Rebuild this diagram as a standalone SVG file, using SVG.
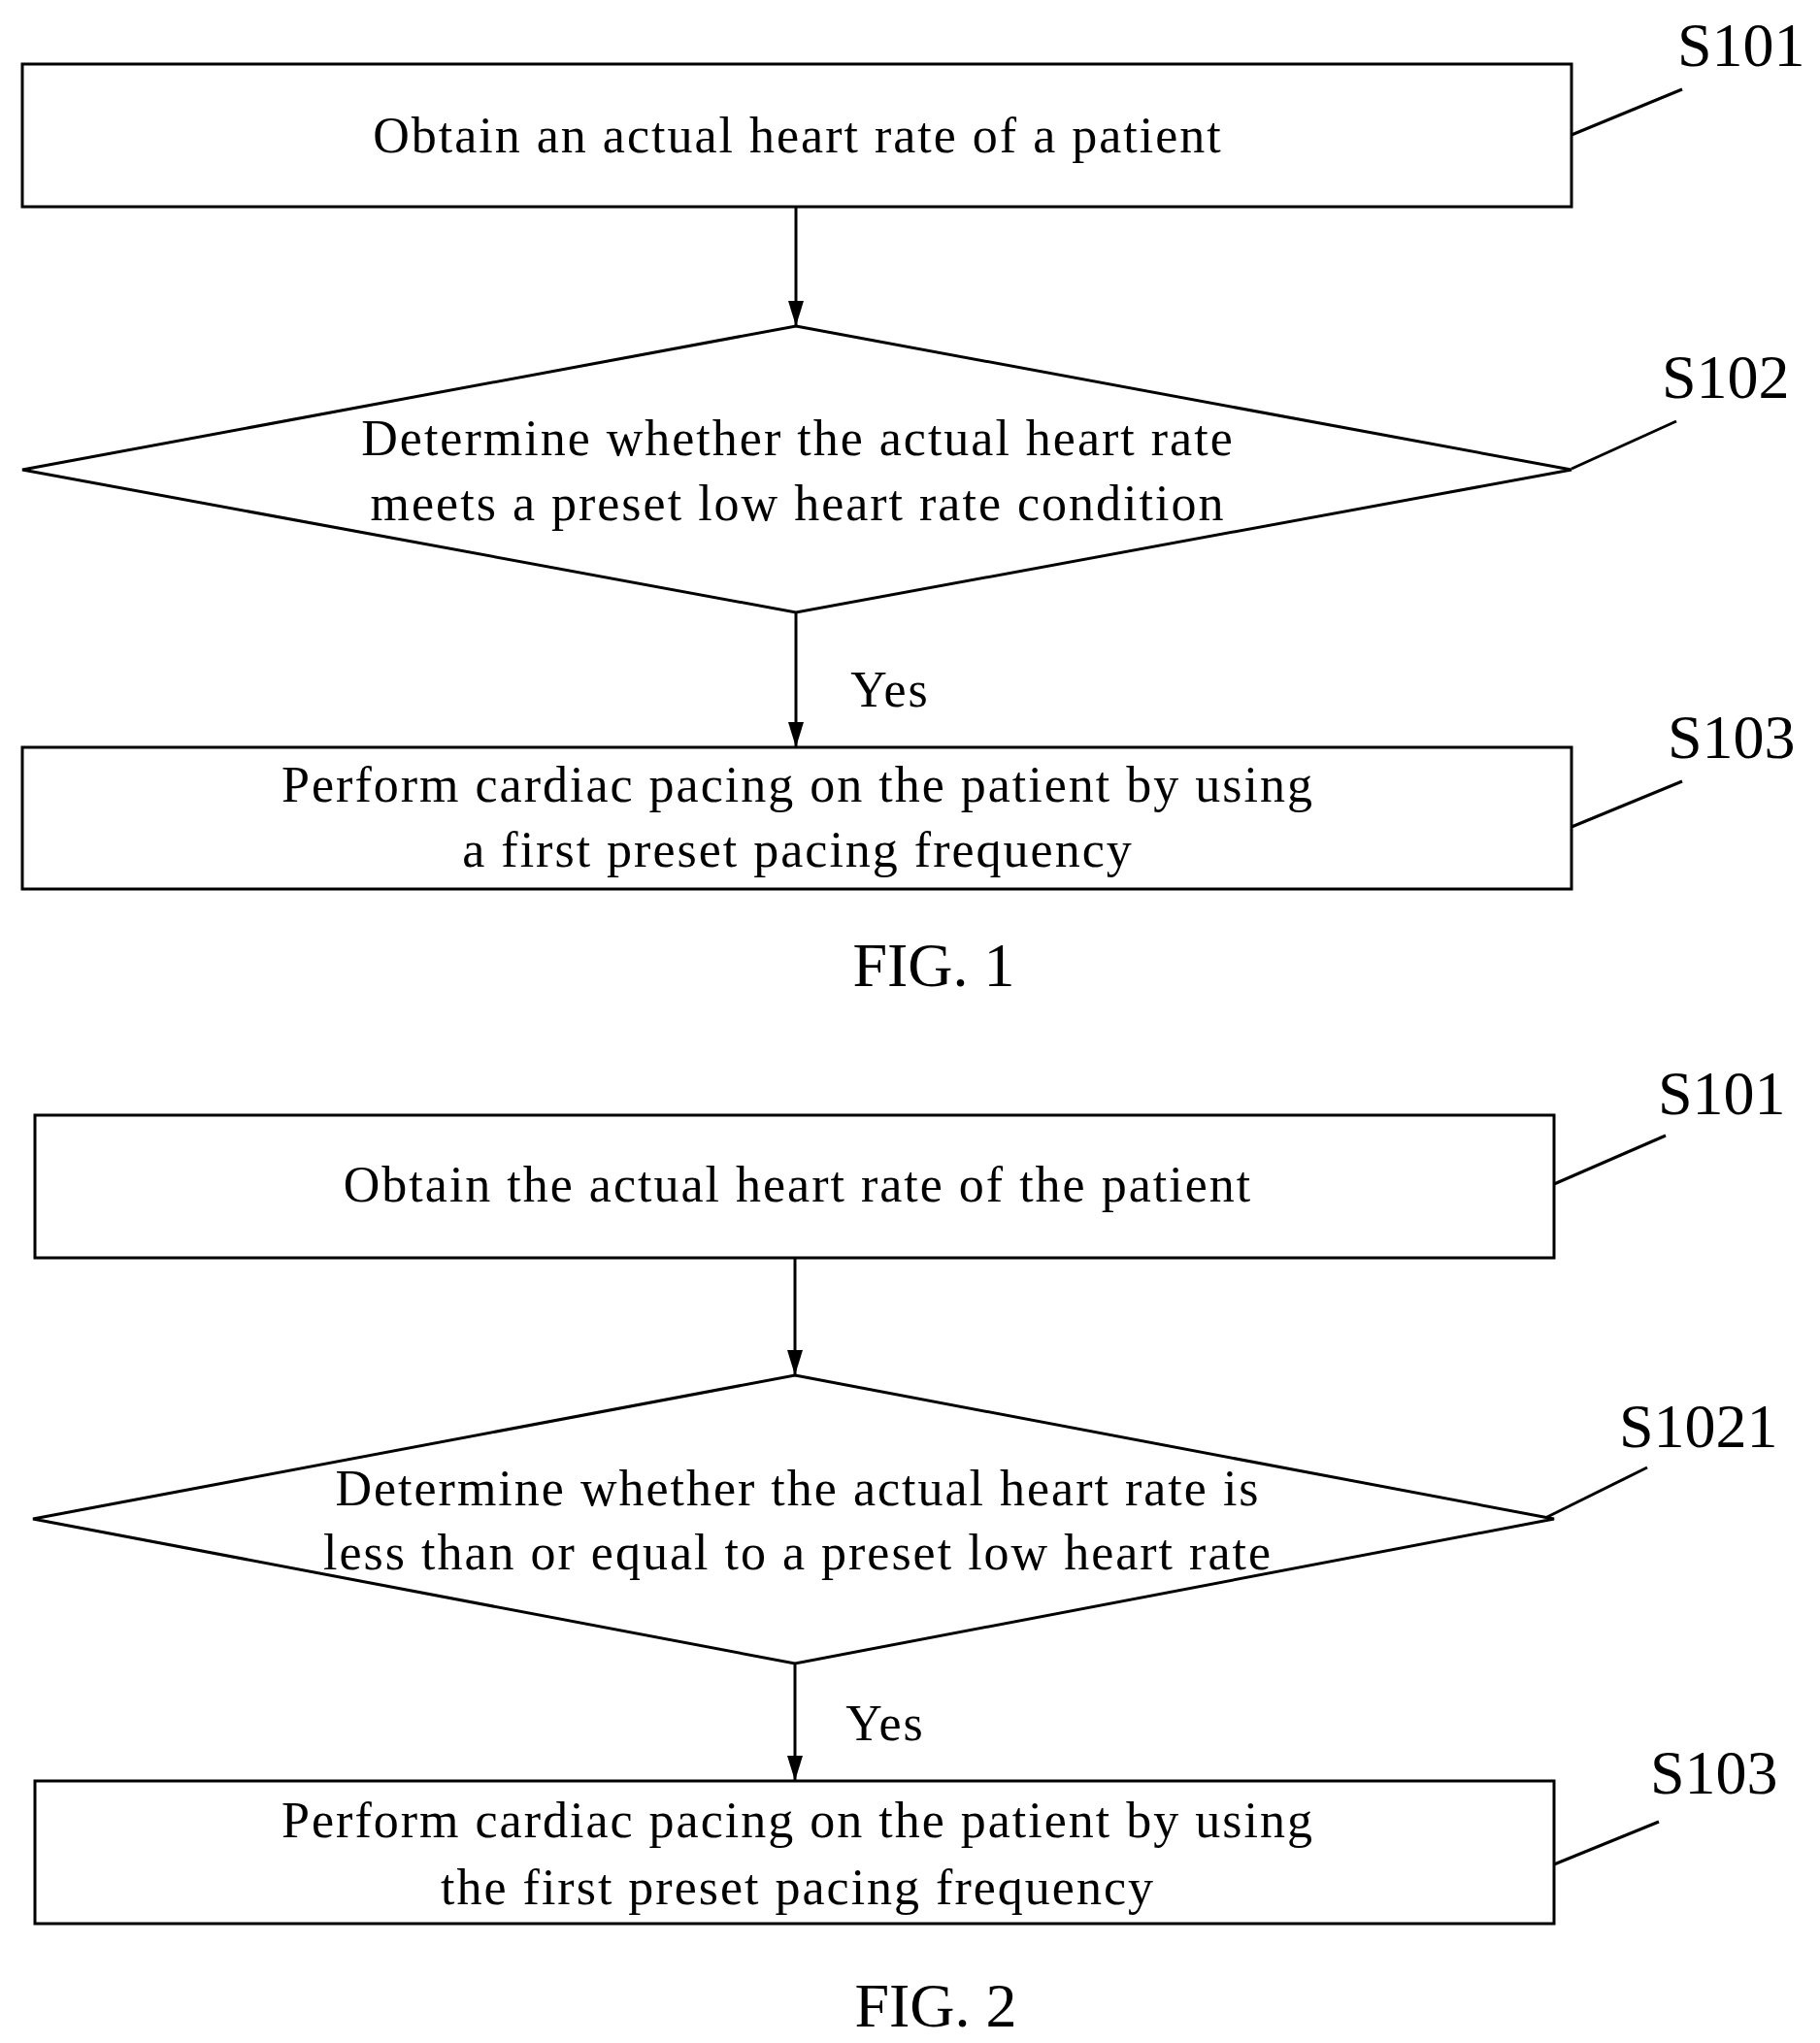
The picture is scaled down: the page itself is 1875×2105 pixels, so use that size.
<svg xmlns="http://www.w3.org/2000/svg" width="1875" height="2105" viewBox="0 0 1875 2105">
<style>
.s{fill:#fff;stroke:#000;stroke-width:3}
.l{stroke:#000;stroke-width:3;fill:none}
text{font-family:"Liberation Serif","Times New Roman",serif;fill:#000}
.t{font-size:52px;text-anchor:middle;letter-spacing:2px}
.lb{font-size:64px}
.f{font-size:64px;text-anchor:middle}
</style>
<defs><marker id="a" markerWidth="26" markerHeight="16" refX="26" refY="8" orient="auto" markerUnits="userSpaceOnUse" viewBox="0 0 26 16"><path d="M0,0 L26,8 L0,16 Z" fill="#000"/></marker></defs>
<rect width="1875" height="2105" fill="#fff"/>
<g id="connectors">
<line class="l" x1="820" y1="213" x2="820" y2="336" marker-end="url(#a)"/>
<line class="l" x1="820" y1="631" x2="820" y2="770" marker-end="url(#a)"/>
<line class="l" x1="819" y1="1296" x2="819" y2="1417" marker-end="url(#a)"/>
<line class="l" x1="819" y1="1714" x2="819" y2="1835" marker-end="url(#a)"/>
<text class="t" x="917" y="728">Yes</text>
<text class="t" x="912" y="1793">Yes</text>
<line class="l" x1="1619" y1="139" x2="1733" y2="92"/>
<line class="l" x1="1619" y1="483" x2="1727" y2="434"/>
<line class="l" x1="1619" y1="852" x2="1733" y2="805"/>
<line class="l" x1="1601" y1="1220" x2="1716" y2="1170"/>
<line class="l" x1="1592" y1="1564" x2="1697" y2="1512"/>
<line class="l" x1="1601" y1="1921" x2="1709" y2="1877"/>
</g>
<g id="f1_s101"><rect class="s" x="23" y="66" width="1596" height="147"/><text class="t" x="822" y="157">Obtain an actual heart rate of a patient</text><text class="lb" x="1728" y="68">S101</text></g>
<g id="f1_s102"><polygon class="s" points="820,336 1619,484 820,631 23,484"/><text class="t" x="822" y="469">Determine whether the actual heart rate</text><text class="t" x="822" y="536">meets a preset low heart rate condition</text><text class="lb" x="1712" y="410">S102</text></g>
<g id="f1_s103"><rect class="s" x="23" y="770" width="1596" height="146"/><text class="t" x="822" y="826">Perform cardiac pacing on the patient by using</text><text class="t" x="822" y="893">a first preset pacing frequency</text><text class="lb" x="1718" y="781">S103</text></g>
<text class="f" x="962" y="1016">FIG. 1</text>
<g id="f2_s101"><rect class="s" x="36" y="1149" width="1565" height="147"/><text class="t" x="822" y="1238">Obtain the actual heart rate of the patient</text><text class="lb" x="1708" y="1148">S101</text></g>
<g id="f2_s1021"><polygon class="s" points="819,1417 1601,1565 819,1714 34,1565"/><text class="t" x="822" y="1551">Determine whether the actual heart rate is</text><text class="t" x="822" y="1617">less than or equal to a preset low heart rate</text><text class="lb" x="1668" y="1491">S1021</text></g>
<g id="f2_s103"><rect class="s" x="36" y="1835" width="1565" height="147"/><text class="t" x="822" y="1893">Perform cardiac pacing on the patient by using</text><text class="t" x="822" y="1962">the first preset pacing frequency</text><text class="lb" x="1700" y="1848">S103</text></g>
<text class="f" x="964" y="2088">FIG. 2</text>
</svg>
